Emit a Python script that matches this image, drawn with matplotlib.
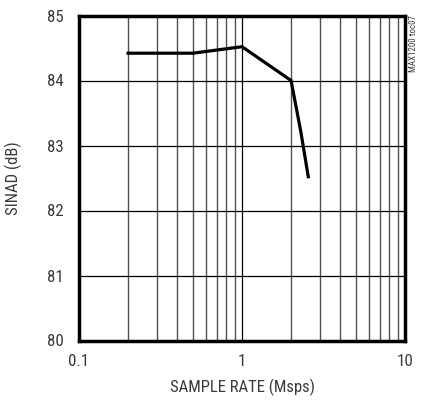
import matplotlib
matplotlib.use('Agg')
import matplotlib.pyplot as plt
from matplotlib.ticker import FixedLocator, NullFormatter

# SINAD vs sample rate
sample_rate = [0.2, 0.5, 1.0, 2.0, 2.3, 2.55]
sinad = [84.42, 84.42, 84.52, 84.0, 83.2, 82.52]

x_ticks = [0.1, 1, 10]
x_labels = ['0.1', '1', '10']
y_ticks = [80, 81, 82, 83, 84, 85]

plt.rcParams['font.family'] = ['Roboto Condensed', 'DejaVu Sans']
txt = '#3a3a3a'

fig = plt.figure(figsize=(4.21, 4.0), dpi=100)
ax = fig.add_axes([79 / 421, 1 - 340.5 / 400, 326 / 421, 325 / 400])

ax.set_xscale('log')
ax.set_xlim(0.1, 10)
ax.set_ylim(80, 85)

# grid: decades black, minor lines grey
minor = [m * d for d in (0.1, 1) for m in range(2, 10)]
ax.xaxis.set_minor_locator(FixedLocator(minor))
ax.xaxis.set_minor_formatter(NullFormatter())
ax.set_xticks(x_ticks)
ax.set_xticklabels(x_labels)
ax.set_yticks(y_ticks)
ax.grid(True, which='major', color='black', linewidth=0.9)
ax.grid(True, which='minor', axis='x', color='#505050', linewidth=1.0)
ax.tick_params(which='both', length=0, labelsize=12.2, colors=txt)
ax.tick_params(axis='y', pad=11)
ax.tick_params(axis='x', pad=10)

ax.plot(sample_rate, sinad, color='black', linewidth=2.3, solid_joinstyle='miter')

for s in ax.spines.values():
    s.set_linewidth(2.5)

ax.set_xlabel('SAMPLE RATE (Msps)', fontsize=12, color=txt, labelpad=7)
ax.set_ylabel('SINAD (dB)', fontsize=12, color=txt, labelpad=18)

fig.text(414 / 421, 1 - 15 / 400, 'MAX1200 toc07', rotation=90, fontsize=6.5,
         color=txt, ha='center', va='top')

fig.savefig('out.png', dpi=100)
